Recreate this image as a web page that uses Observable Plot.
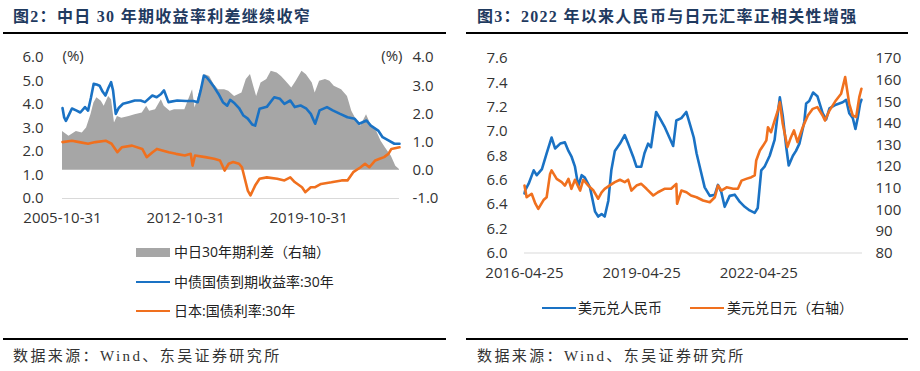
<!DOCTYPE html>
<html>
<head>
<meta charset="utf-8">
<script src="https://cdn.jsdelivr.net/npm/d3@7"></script>
<script src="https://cdn.jsdelivr.net/npm/@observablehq/plot@0.6"></script>
<style>
  html, body { margin: 0; padding: 0; background: #fff; }
  body { width: 920px; height: 371px; position: relative; overflow: hidden; font-family: "Open Sans", "Noto Sans CJK SC", sans-serif; color: #222; }
  .abs { position: absolute; white-space: nowrap; }
  .title { font-family: "Liberation Serif", "Noto Sans CJK SC", serif; font-weight: bold; font-size: 16px; letter-spacing: 1.3px; color: #1f3a5f; line-height: 20px; height: 20px; }
  .rule { background: #000; height: 2px; }
  .cap { font-family: "Liberation Serif", "Noto Sans CJK SC", serif; font-size: 15px; letter-spacing: 2.4px; color: #333; line-height: 20px; height: 20px; }
  .leg { font-size: 14px; line-height: 20px; height: 20px; color: #222; }
</style>
</head>
<body>
<div class="abs title" style="left:13px; top:7px;">图2：中日 30 年期收益率利差继续收窄</div>
<div class="abs title" style="left:477px; top:7px;">图3：2022 年以来人民币与日元汇率正相关性增强</div>
<div class="abs rule" style="left:3px; top:32px; width:443px;"></div>
<div class="abs rule" style="left:466px; top:32px; width:442px;"></div>

<div id="left" class="abs" style="left:0px; top:40px;"></div>
<div id="right" class="abs" style="left:460px; top:40px;"></div>

<div id="legL"></div>
<div id="legR"></div>

<div class="abs rule" style="left:3px; top:338px; width:443px;"></div>
<div class="abs rule" style="left:466px; top:338px; width:442px;"></div>
<div class="abs cap" style="left:13px; top:346px;">数据来源：Wind、东吴证券研究所</div>
<div class="abs cap" style="left:477px; top:346px;">数据来源：Wind、东吴证券研究所</div>

<script>
// ---------- Figure 2 data ----------
const cnDates = ["2005-10-31","2005-12-05","2006-01-10","2006-03-10","2006-05-15","2006-08-10","2006-11-05","2007-02-10","2007-04-15","2007-06-15","2007-08-10","2007-10-10","2007-12-10","2008-02-10","2008-04-10","2008-06-10","2008-08-05","2008-09-15","2008-11-10","2009-01-10","2009-04-10","2009-08-10","2009-12-10","2010-04-10","2010-07-10","2010-12-10","2011-03-10","2011-06-10","2011-08-10","2011-11-10","2012-05-10","2012-11-10","2013-04-10","2013-07-10","2013-09-10","2013-11-15","2014-01-15","2014-03-15","2014-06-15","2014-09-15","2014-12-15","2015-03-15","2015-05-15","2015-08-15","2015-11-15","2016-02-15","2016-05-15","2016-08-15","2016-10-15","2017-01-15","2017-06-15","2017-11-15","2018-03-15","2018-06-15","2018-10-15","2019-01-15","2019-05-15","2019-09-15","2019-12-15","2020-03-15","2020-06-15","2020-11-15","2021-03-15","2021-08-15","2022-01-15","2022-06-15","2022-09-15","2023-02-15","2023-05-15","2023-10-15","2024-01-15","2024-05-15","2024-09-15","2024-12-31"];
const cnYield = [3.85,3.45,3.30,3.55,3.83,3.75,3.66,3.89,3.74,4.30,4.88,4.85,4.80,4.55,4.38,4.70,4.95,4.60,3.60,3.85,4.03,4.10,4.17,4.17,4.10,4.38,4.31,4.45,4.60,4.10,4.17,4.15,4.15,4.10,4.60,5.23,5.15,5.00,4.74,4.45,4.10,3.95,4.20,4.05,3.85,3.53,3.40,3.15,3.10,3.82,3.90,4.31,4.24,4.03,4.17,3.89,3.96,3.82,3.60,3.18,3.75,3.89,3.75,3.60,3.46,3.39,3.18,3.32,3.10,2.89,2.61,2.47,2.33,2.33];

const jpDates = ["2005-10-31","2006-05-15","2006-10-15","2007-04-15","2007-09-15","2008-04-15","2008-08-15","2008-12-15","2009-03-15","2009-10-15","2010-05-15","2010-08-15","2010-12-15","2011-03-15","2011-11-15","2012-04-15","2012-10-15","2013-02-15","2013-03-25","2013-05-15","2013-12-15","2014-06-15","2014-10-15","2015-01-20","2015-04-15","2015-07-15","2015-11-15","2016-01-15","2016-05-15","2016-07-10","2016-10-15","2017-01-15","2017-06-15","2018-01-15","2018-06-15","2018-10-15","2019-01-15","2019-06-15","2019-08-25","2019-12-15","2020-03-15","2020-07-15","2021-02-15","2021-09-15","2022-01-15","2022-05-15","2022-10-15","2023-01-15","2023-04-15","2023-08-15","2023-11-15","2024-02-15","2024-05-15","2024-07-15","2024-12-31"];
const jpYield = [2.40,2.46,2.40,2.33,2.40,2.46,2.33,1.97,2.18,2.25,2.11,1.76,1.97,2.11,1.97,1.90,1.83,1.90,1.40,1.83,1.76,1.69,1.62,1.19,1.48,1.55,1.48,1.33,0.34,0.13,0.55,0.84,0.90,0.84,0.77,0.90,0.70,0.48,0.27,0.48,0.48,0.62,0.69,0.77,0.77,1.12,1.33,1.48,1.33,1.62,1.69,1.76,1.90,2.11,2.18];

const spreadDates = ["2005-10-31","2006-03-15","2006-08-15","2006-12-15","2007-03-15","2007-06-15","2007-08-15","2007-10-15","2008-01-15","2008-03-15","2008-06-15","2008-08-15","2008-10-15","2008-12-15","2009-03-15","2009-08-15","2009-12-15","2010-05-15","2010-08-15","2010-10-15","2011-02-15","2011-06-15","2011-08-15","2011-12-15","2012-03-15","2012-10-15","2013-03-25","2013-05-15","2013-10-15","2013-12-15","2014-03-15","2014-06-15","2014-09-15","2015-01-20","2015-04-15","2015-08-15","2016-01-15","2016-04-15","2016-07-10","2016-09-15","2016-11-15","2017-02-15","2017-06-15","2017-09-15","2018-01-15","2018-04-15","2018-07-15","2018-11-15","2019-02-15","2019-06-15","2019-09-15","2020-01-15","2020-03-15","2020-06-15","2020-10-15","2021-01-15","2021-04-15","2021-09-15","2022-01-15","2022-04-15","2022-07-15","2022-10-15","2023-02-15","2023-05-15","2023-09-15","2023-12-15","2024-03-15","2024-07-15","2024-10-15","2024-12-31"];
const spreadVal = [1.38,1.21,1.38,1.32,1.50,1.98,2.39,2.57,2.45,2.27,2.62,2.50,1.68,1.91,1.85,1.91,1.97,2.03,2.27,2.09,2.15,2.50,2.27,2.09,2.15,2.15,2.86,2.21,3.10,3.39,3.33,3.04,2.86,2.86,2.80,2.62,2.74,3.22,3.40,2.98,2.62,3.10,3.22,3.51,3.45,3.33,3.16,2.92,3.16,3.51,3.39,3.10,2.74,3.16,3.22,3.16,2.98,2.86,2.62,2.09,1.80,1.56,1.97,1.62,1.38,1.03,0.79,0.50,0.14,0.03];

const f2LeftTicks = [0, 1, 2, 3, 4, 5, 6];
const f2RightTicks = [-1, 0, 1, 2, 3, 4];
const f2XTicks = ["2005-10-31", "2012-10-31", "2019-10-31"];
const f2Domain = ["2005-10-31", "2024-12-31"];

// ---------- Figure 3 data ----------
const cnyDates = ["2016-04-25","2016-05-01","2016-06-03","2016-07-20","2016-08-18","2016-10-05","2016-11-18","2017-01-03","2017-02-05","2017-03-25","2017-05-08","2017-06-10","2017-07-10","2017-08-10","2017-09-10","2017-10-12","2017-11-10","2017-12-28","2018-02-14","2018-03-15","2018-04-16","2018-05-15","2018-06-18","2018-07-16","2018-08-18","2018-10-05","2018-11-18","2018-12-20","2019-02-06","2019-03-08","2019-04-22","2019-05-22","2019-06-25","2019-07-22","2019-09-08","2019-10-12","2019-11-25","2020-01-10","2020-02-14","2020-03-15","2020-05-01","2020-06-16","2020-07-30","2020-08-25","2020-09-20","2020-10-20","2020-12-05","2021-01-22","2021-03-10","2021-04-08","2021-05-10","2021-06-10","2021-07-27","2021-09-12","2021-10-30","2021-12-15","2022-01-30","2022-03-18","2022-04-15","2022-05-18","2022-06-18","2022-08-05","2022-09-20","2022-10-20","2022-11-08","2022-12-05","2023-01-07","2023-01-30","2023-03-10","2023-04-08","2023-05-10","2023-06-25","2023-07-12","2023-08-10","2023-09-15","2023-10-25","2023-12-13","2024-01-15","2024-02-15","2024-04-15","2024-06-18","2024-07-20","2024-08-18","2024-09-20","2024-10-15","2024-11-05","2024-11-28","2024-12-10"];
const cnyRate = [6.49,6.515,6.57,6.68,6.64,6.69,6.82,6.95,6.86,6.90,6.91,6.84,6.79,6.71,6.55,6.64,6.62,6.54,6.34,6.30,6.32,6.30,6.43,6.68,6.84,6.90,6.97,6.90,6.79,6.71,6.71,6.82,6.90,6.87,7.16,7.11,7.04,6.95,6.88,7.09,7.11,7.16,7.03,6.95,6.82,6.71,6.54,6.47,6.48,6.56,6.50,6.38,6.47,6.48,6.42,6.38,6.35,6.33,6.37,6.68,6.71,6.80,6.93,7.15,7.28,7.13,6.87,6.72,6.80,6.84,6.90,7.08,7.23,7.25,7.32,7.29,7.15,7.10,7.19,7.22,7.24,7.26,7.15,7.11,7.02,7.11,7.23,7.26];

const jpyDates = ["2016-04-25","2016-05-15","2016-07-01","2016-08-05","2016-09-01","2016-10-20","2016-11-18","2016-12-20","2017-01-03","2017-02-20","2017-04-08","2017-05-08","2017-06-10","2017-07-08","2017-08-10","2017-09-27","2017-10-27","2017-12-13","2018-01-30","2018-03-15","2018-04-16","2018-05-15","2018-06-28","2018-08-18","2018-10-05","2018-11-18","2018-12-20","2019-01-20","2019-03-08","2019-04-22","2019-06-10","2019-08-12","2019-09-25","2019-11-25","2020-01-26","2020-03-15","2020-03-22","2020-05-01","2020-06-18","2020-07-30","2020-09-20","2020-11-20","2021-01-22","2021-03-10","2021-04-08","2021-05-10","2021-06-28","2021-08-28","2021-10-12","2021-11-15","2021-12-28","2022-02-15","2022-03-18","2022-04-01","2022-05-05","2022-06-05","2022-07-05","2022-07-20","2022-08-18","2022-09-20","2022-10-20","2022-11-08","2022-12-05","2023-01-18","2023-02-20","2023-03-20","2023-04-22","2023-06-10","2023-07-28","2023-09-12","2023-10-25","2023-12-13","2024-01-04","2024-02-15","2024-04-15","2024-06-03","2024-07-11","2024-08-18","2024-09-20","2024-10-22","2024-11-20","2024-12-10"];
const jpyRate = [111.2,105.8,107.4,102.8,100.4,104.5,105.8,116.6,118.2,114.3,112.8,111.2,114.3,109.7,113.9,108.9,113.9,111.2,108.9,105.1,108.1,109.7,111.2,112.8,113.9,112.8,113.9,108.9,111.2,112.0,109.7,106.6,108.1,109.7,109.7,112.0,102.8,108.9,108.1,106.6,105.8,104.3,103.5,105.8,111.2,108.9,110.4,109.7,109.7,113.5,114.3,115.1,115.9,122.8,127.4,129.7,132.1,138.2,135.9,141.3,145.9,149.8,139.8,129.0,133.6,136.7,131.3,138.2,143.6,146.7,147.5,143.6,141.3,145.9,150.6,153.7,161.4,149.0,143.6,142.9,152.1,156.0];

const f3LeftTicks = [6.0, 6.2, 6.4, 6.6, 6.8, 7.0, 7.2, 7.4, 7.6];
const f3RightTicks = [80, 90, 100, 110, 120, 130, 140, 150, 160, 170];
const f3XTicks = ["2016-04-25", "2019-04-25", "2022-04-25"];
const f3Domain = ["2016-04-25", "2024-12-20"];

// ---------- helpers ----------
const BLUE = "#1a72c4", ORANGE = "#f0701e", GREY = "#a6a6a6";
const D = s => new Date(s + "T00:00:00Z");
const zip = (ds, vs) => ds.map((d, i) => ({date: D(d), v: vs[i]}));
const fmtDate = d3.utcFormat("%Y-%m-%d");
const axisFont = {fontFamily: "'Open Sans', 'Noto Sans CJK SC', sans-serif", fontSize: "15px", color: "#333", background: "transparent", overflow: "visible"};
const LW = 2.6;

// ---------- Figure 2 ----------
{
  const L0 = 0, L1 = 6, R0 = -1, R1 = 4;
  const toL = r => L0 + (r - R0) * (L1 - L0) / (R1 - R0);
  const toR = l => R0 + (l - L0) * (R1 - R0) / (L1 - L0);
  const cn = zip(cnDates, cnYield), jp = zip(jpDates, jpYield), sp = zip(spreadDates, spreadVal);
  const chart = Plot.plot({
    width: 460, height: 190,
    marginTop: 17, marginBottom: 32, marginLeft: 62, marginRight: 61,
    style: axisFont,
    x: {type: "utc", domain: f2Domain.map(D)},
    y: {domain: [L0, L1]},
    marks: [
      Plot.areaY(sp, {x: "date", y1: () => toL(0), y2: d => toL(d.v), fill: GREY, curve: "linear"}),
      Plot.ruleY([L0], {stroke: "#d9d9d9", strokeWidth: 1}),
      Plot.lineY(cn, {x: "date", y: "v", stroke: BLUE, strokeWidth: LW}),
      Plot.lineY(jp, {x: "date", y: "v", stroke: ORANGE, strokeWidth: LW}),
      Plot.axisY(f2LeftTicks, {anchor: "left", tickSize: 0, tickPadding: 19, tickFormat: d => d.toFixed(1), label: null}),
      Plot.axisY(f2RightTicks.map(toL), {anchor: "right", tickSize: 0, tickPadding: 13, tickFormat: d => toR(d).toFixed(1), label: null}),
      Plot.axisX(f2XTicks.map(D), {tickSize: 0, tickPadding: 14, tickFormat: fmtDate, label: null}),
      Plot.text(["(%)"], {frameAnchor: "top-left", text: d => d, textAnchor: "start", lineAnchor: "middle", dx: 0, dy: -1, fill: "#333"}),
      Plot.text(["(%)"], {frameAnchor: "top-right", text: d => d, textAnchor: "end", lineAnchor: "middle", dx: 3, dy: -1, fill: "#333"})
    ]
  });
  document.getElementById("left").appendChild(chart);
}

// ---------- Figure 3 ----------
{
  const L0 = 6.0, L1 = 7.6, R0 = 80, R1 = 170;
  const toL = r => L0 + (r - R0) * (L1 - L0) / (R1 - R0);
  const toR = l => R0 + (l - L0) * (R1 - R0) / (L1 - L0);
  const cny = zip(cnyDates, cnyRate), jpy = zip(jpyDates, jpyRate);
  const chart = Plot.plot({
    width: 460, height: 250,
    marginTop: 18, marginBottom: 37.5, marginLeft: 64, marginRight: 58,
    style: axisFont,
    x: {type: "utc", domain: f3Domain.map(D)},
    y: {domain: [L0, L1]},
    marks: [
      Plot.ruleY([L0], {stroke: "#d9d9d9", strokeWidth: 1}),
      Plot.lineY(cny, {x: "date", y: "v", stroke: BLUE, strokeWidth: LW}),
      Plot.lineY(jpy, {x: "date", y: d => toL(d.v), stroke: ORANGE, strokeWidth: LW}),
      Plot.axisY(f3LeftTicks, {anchor: "left", tickSize: 0, tickPadding: 17, tickFormat: d => d.toFixed(1), label: null}),
      Plot.axisY(f3RightTicks.map(toL), {anchor: "right", tickSize: 0, tickPadding: 13, tickFormat: d => String(Math.round(toR(d))), label: null}),
      Plot.axisX(f3XTicks.map(D), {tickSize: 0, tickPadding: 14, tickFormat: fmtDate, label: null})
    ]
  });
  document.getElementById("right").appendChild(chart);
}

// ---------- Legends ----------
function legendItem(parent, kind, color, x, yc, text, tx) {
  const sw = document.createElement("div");
  sw.className = "abs";
  if (kind === "rect") {
    Object.assign(sw.style, {left: x + "px", top: (yc - 4.5) + "px", width: "34px", height: "9px", background: color});
  } else {
    Object.assign(sw.style, {left: x + "px", top: (yc - 1) + "px", width: "34px", height: "2px", background: color});
  }
  parent.appendChild(sw);
  const t = document.createElement("div");
  t.className = "abs leg";
  Object.assign(t.style, {left: tx + "px", top: (yc - 10) + "px"});
  t.textContent = text;
  parent.appendChild(t);
}
const legL = document.getElementById("legL"), legR = document.getElementById("legR");
const legendLabelsL = ["中日30年期利差（右轴）", "中债国债到期收益率:30年", "日本:国债利率:30年"];
const legendLabelsR = ["美元兑人民币", "美元兑日元（右轴）"];
legendItem(legL, "rect", GREY, 136, 252, legendLabelsL[0], 174);
legendItem(legL, "line", BLUE, 136, 282, legendLabelsL[1], 174);
legendItem(legL, "line", ORANGE, 136, 311, legendLabelsL[2], 174);
legendItem(legR, "line", BLUE, 542, 308, legendLabelsR[0], 578);
legendItem(legR, "line", ORANGE, 690, 308, legendLabelsR[1], 727);
</script>
</body>
</html>
